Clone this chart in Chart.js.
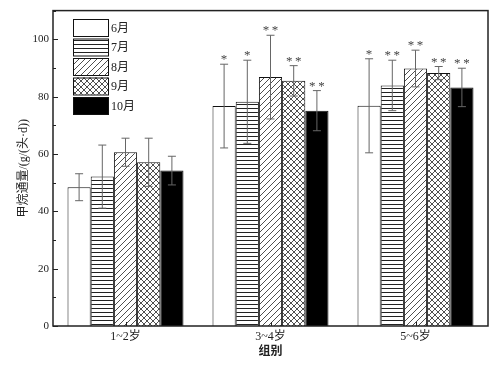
<!DOCTYPE html>
<html>
<head>
<meta charset="utf-8">
<script src="https://cdn.jsdelivr.net/npm/chart.js@4.4.0/dist/chart.umd.min.js"></script>
<style>
  html, body { margin: 0; padding: 0; background: #fff; }
  #wrap { width: 495px; height: 367px; }
</style>
</head>
<body>
<div id="wrap"><canvas id="methaneChart"></canvas></div>
<script>
// groups on x axis
const groups = ['1~2岁', '3~4岁', '5~6岁'];
const months = ['6月', '7月', '8月', '9月', '10月'];

// mean values per month, one per group
const junValues = [48.4, 76.7, 76.8];
const julValues = [52.1, 78.2, 83.9];
const augValues = [60.6, 86.8, 89.8];
const sepValues = [57.1, 85.5, 88.2];
const octValues = [54.2, 75.1, 83.2];

// standard deviations
const junErrors = [4.7, 14.6, 16.4];
const julErrors = [11.0, 14.5, 8.8];
const augErrors = [4.9, 14.6, 6.4];
const sepErrors = [8.4, 5.3, 2.3];
const octErrors = [5.0, 7.0, 6.7];

// significance marks
const junMarks = ['', '*', '*'];
const julMarks = ['', '*', '**'];
const augMarks = ['', '**', '**'];
const sepMarks = ['', '**', '**'];
const octMarks = ['', '**', '**'];

const yTicks = [0, 20, 40, 60, 80, 100];

function makePattern(kind) {
    const size = kind === 'hlines' ? 4 : 6;
    const c = document.createElement('canvas');
    c.width = size; c.height = size;
    const g = c.getContext('2d');
    g.fillStyle = '#fff';
    g.fillRect(0, 0, size, size);
    g.strokeStyle = '#222';
    g.lineWidth = kind === 'hlines' ? 1 : 0.8;
    g.beginPath();
    if (kind === 'hlines') {
        g.moveTo(0, 0.5); g.lineTo(size, 0.5);
    } else {
        // "/" diagonals
        g.moveTo(-1, size + 1); g.lineTo(size + 1, -1);
        g.moveTo(-1, 1); g.lineTo(1, -1);
        g.moveTo(size - 1, size + 1); g.lineTo(size + 1, size - 1);
        if (kind === 'cross') {
            g.moveTo(-1, -1); g.lineTo(size + 1, size + 1);
            g.moveTo(size - 1, -1); g.lineTo(size + 1, 1);
            g.moveTo(-1, size - 1); g.lineTo(1, size + 1);
        }
    }
    g.stroke();
    return document.getElementById('methaneChart').getContext('2d').createPattern(c, 'repeat');
}

const fills = ['#ffffff', makePattern('hlines'), makePattern('diag'), makePattern('cross'), '#000000'];
const allValues = [junValues, julValues, augValues, sepValues, octValues];
const allErrors = [junErrors, julErrors, augErrors, sepErrors, octErrors];
const allMarks = [junMarks, julMarks, augMarks, sepMarks, octMarks];

const datasets = months.map((m, i) => ({
    label: m,
    data: allValues[i],
    errors: allErrors[i],
    marks: allMarks[i],
    backgroundColor: fills[i],
    borderColor: '#111',
    borderWidth: 1,
    borderSkipped: 'bottom'
}));

const serif = '"Liberation Serif", "Times New Roman", "Noto Sans CJK SC", serif';

// error bars, stars, frame, inward ticks and the legend
const decorPlugin = {
    id: 'decor',
    afterDatasetsDraw(chart) {
        const ctx = chart.ctx;
        const y = chart.scales.y;
        const x = chart.scales.x;
        const area = chart.chartArea;
        ctx.save();

        // error bars
        chart.data.datasets.forEach((ds, di) => {
            const meta = chart.getDatasetMeta(di);
            meta.data.forEach((bar, i) => {
                const v = ds.data[i], e = ds.errors[i];
                const top = y.getPixelForValue(v + e);
                const bot = y.getPixelForValue(v - e);
                ctx.strokeStyle = '#666';
                ctx.lineWidth = 1;
                ctx.beginPath();
                ctx.moveTo(bar.x, top); ctx.lineTo(bar.x, bot);
                ctx.moveTo(bar.x - 4, top); ctx.lineTo(bar.x + 4, top);
                ctx.moveTo(bar.x - 4, bot); ctx.lineTo(bar.x + 4, bot);
                ctx.stroke();
                if (ds.marks[i]) {
                    ctx.fillStyle = '#444';
                    ctx.font = '13px ' + serif;
                    ctx.textAlign = 'center';
                    ctx.textBaseline = 'alphabetic';
                    ctx.fillText(ds.marks[i].split('').join('\u2009'), bar.x, top - 1);
                }
            });
        });

        // frame
        ctx.strokeStyle = '#222';
        ctx.lineWidth = 1.5;
        ctx.strokeRect(area.left, area.top, area.right - area.left, area.bottom - area.top);

        // inward ticks
        ctx.lineWidth = 1;
        ctx.beginPath();
        for (let v = 0; v <= 110; v += 10) {
            const py = Math.round(y.getPixelForValue(v)) + 0.5;
            const len = v % 20 === 0 ? 5 : 3;
            ctx.moveTo(area.left, py); ctx.lineTo(area.left + len, py);
        }
        groups.forEach((g, i) => {
            const px = Math.round(x.getPixelForValue(i)) + 0.5;
            ctx.moveTo(px, area.bottom); ctx.lineTo(px, area.bottom - 4);
        });
        ctx.stroke();

        // legend
        const lx = area.left + 20, boxW = 35, boxH = 17;
        chart.data.datasets.forEach((ds, di) => {
            const ly = 19 + di * 19.5;
            ctx.fillStyle = ds.backgroundColor;
            ctx.fillRect(lx, ly, boxW, boxH);
            ctx.strokeStyle = '#111';
            ctx.lineWidth = 1;
            ctx.strokeRect(lx + 0.5, ly + 0.5, boxW, boxH);
            ctx.fillStyle = '#222';
            ctx.font = '12px ' + serif;
            ctx.textAlign = 'left';
            ctx.textBaseline = 'middle';
            ctx.fillText(ds.label, lx + boxW + 3, ly + boxH / 2 + 1);
        });
        ctx.restore();
    }
};

new Chart(document.getElementById('methaneChart').getContext('2d'), {
    type: 'bar',
    data: { labels: groups, datasets: datasets },
    options: {
        responsive: true,
        maintainAspectRatio: false,
        animation: false,
        layout: { padding: { top: 7, right: 7, left: 17, bottom: 0 } },
        datasets: { bar: { categoryPercentage: 0.8, barPercentage: 1.0 } },
        scales: {
            x: {
                grid: { display: false, drawTicks: false },
                border: { display: false },
                ticks: { color: '#222', padding: 4, font: { family: serif, size: 12 } },
                title: { display: true, text: '组别', color: '#222', padding: { top: 0, bottom: 8 },
                         font: { family: serif, size: 12, weight: 'bold' } },
                afterFit(scale) { scale.height = 41; }
            },
            y: {
                min: 0,
                max: 110,
                grid: { display: false, drawTicks: false },
                border: { display: false },
                afterBuildTicks(scale) { scale.ticks = yTicks.map(v => ({ value: v })); },
                ticks: { color: '#222', padding: 4, font: { family: serif, size: 11 } },
                title: { display: true, text: '甲烷通量/(g/(头·d))', color: '#222', padding: { top: 0, bottom: 2 },
                         font: { family: serif, size: 12 } },
                afterFit(scale) { scale.width = 36; }
            }
        },
        plugins: {
            legend: { display: false },
            tooltip: { enabled: false }
        }
    },
    plugins: [decorPlugin]
});
</script>
</body>
</html>
